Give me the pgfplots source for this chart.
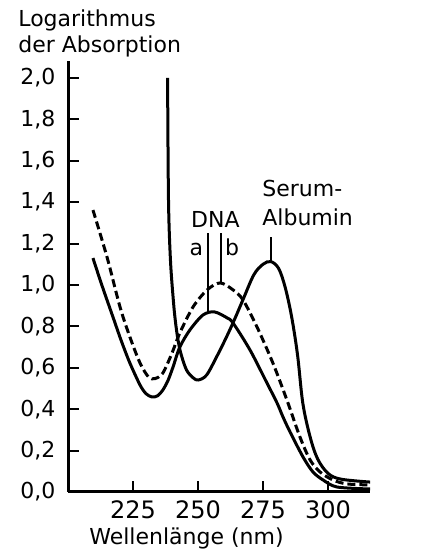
\documentclass[border=0pt]{standalone}
\usepackage{fontspec}
\setmainfont{DejaVu Sans}
\usepackage{pgfplots}
\pgfplotsset{compat=1.18}
\begin{document}
\begin{tikzpicture}
\useasboundingbox (-34pt,-34pt) rectangle (186.5pt,246pt);
\begin{axis}[
  scale only axis, width=151pt, height=215.5pt,
  at={(0,0)}, anchor=south west,
  xmin=200, xmax=316.15, ymin=0, ymax=2.082,
  axis lines*=left,
  axis line style={line width=1.5pt},
  tick align=inside, major tick length=5.5pt,
  tick style={line width=1pt, black},
  xtick={225,250,275,300}, xticklabels={225,250,275,300},
  ytick={0,0.2,0.4,0.6,0.8,1.0,1.2,1.4,1.6,1.8,2.0},
  yticklabels={{0,0},{0,2},{0,4},{0,6},{0,8},{1,0},{1,2},{1,4},{1,6},{1,8},{2,0}},
  x tick label style={font=\fontsize{12}{14}\selectfont, yshift=-1pt},
  y tick label style={font=\fontsize{11}{13}\selectfont, xshift=-2.8pt},
  clip=false,
]
% DNA a (solid)
\addplot[black, line width=1.5pt, smooth, tension=0.5] coordinates {
(209.6,1.13)(213,1.0)(217.3,0.845)(220.5,0.73)(223.8,0.623)(227.7,0.517)(230,0.475)(232.3,0.459)(234.5,0.465)(236.5,0.493)(238.5,0.54)(240.4,0.604)(243,0.70)(246.9,0.783)(251.9,0.855)(256.3,0.870)(261.2,0.841)(263.5,0.816)(270,0.686)(276.5,0.527)(280.4,0.43)(282.7,0.362)(285.4,0.290)(290.4,0.169)(294.2,0.097)(298.1,0.058)(303.5,0.024)(316.2,0.0145)};
% DNA b (dashed)
\addplot[black, line width=1.5pt, smooth, tension=0.5, dash pattern=on 4pt off 2pt] coordinates {
(209.6,1.362)(215,1.135)(220,0.894)(223.8,0.749)(227.7,0.623)(231,0.555)(233.5,0.548)(236.5,0.575)(240,0.671)(243,0.768)(248.1,0.894)(253.5,0.976)(258.5,1.01)(263.5,0.976)(267.3,0.928)(272.7,0.797)(278.8,0.623)(284.2,0.444)(289.2,0.266)(293.1,0.155)(296.9,0.097)(301.9,0.058)(307.3,0.039)(316.2,0.034)};
% Serum-Albumin (solid)
\addplot[black, line width=1.5pt, smooth, tension=0.55] coordinates {
(238.3,2.0)(238.65,1.411)(239.4,1.121)(240.5,0.928)(241.3,0.825)(242.3,0.735)(243.5,0.665)(245.6,0.589)(248.2,0.551)(250.1,0.541)(253.3,0.565)(257.2,0.654)(261,0.75)(264.2,0.838)(267.5,0.935)(271.5,1.05)(275,1.10)(278,1.113)(281,1.08)(283.5,0.99)(286,0.847)(288.3,0.66)(290.3,0.43)(293.1,0.267)(296,0.16)(300,0.09)(305,0.062)(316.2,0.048)};
% indicator lines
\addplot[black, line width=0.9pt] coordinates {(253.85,0.865)(253.85,1.251)};
\addplot[black, line width=0.9pt] coordinates {(258.85,1.01)(258.85,1.251)};
\addplot[black, line width=0.9pt] coordinates {(278.1,1.113)(278.1,1.232)};
\node[anchor=base, font=\fontsize{11}{13}\selectfont] at (axis cs:256.7,1.280) {DNA};
\node[anchor=base, font=\fontsize{11}{13}\selectfont] at (axis cs:249.4,1.140) {a};
\node[anchor=base, font=\fontsize{11}{13}\selectfont] at (axis cs:263.1,1.140) {b};
\node[anchor=base west, inner sep=0pt, font=\fontsize{11}{13}\selectfont] at (axis cs:274.6,1.425) {Serum-};
\node[anchor=base west, inner sep=0pt, font=\fontsize{11}{13}\selectfont] at (axis cs:274.6,1.285) {Albumin};
\end{axis}
\node[anchor=base west, inner sep=0pt, font=\fontsize{11}{13}\selectfont] at (-25pt,232.5pt) {Logarithmus};
\node[anchor=base west, inner sep=0pt, font=\fontsize{11}{13}\selectfont] at (-25pt,219.5pt) {der Absorption};
\node[anchor=base, inner sep=0pt, font=\fontsize{11}{13}\selectfont] at (59.25pt,-26.5pt) {Wellenlänge (nm)};
\end{tikzpicture}
\end{document}
